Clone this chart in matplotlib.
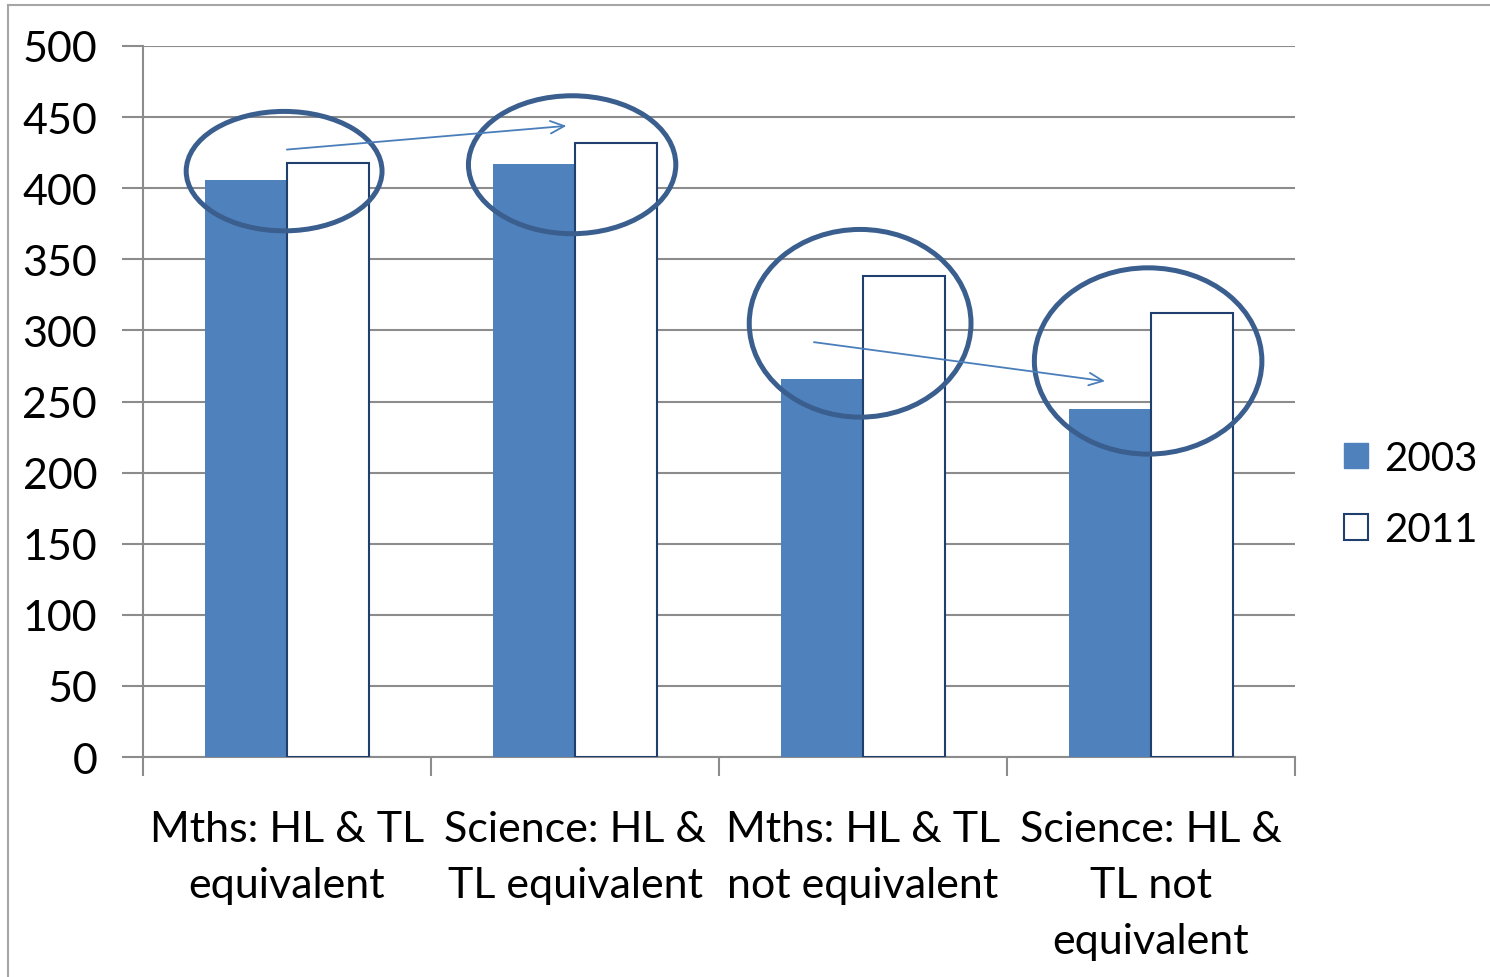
import matplotlib
matplotlib.use("Agg")
import matplotlib.pyplot as plt
from matplotlib.patches import Ellipse
from matplotlib.lines import Line2D
import numpy as np

plt.rcParams['font.family'] = ['Lato', 'DejaVu Sans']

categories = ['Mths: HL & TL\nequivalent', 'Science: HL &\nTL equivalent',
              'Mths: HL & TL\nnot equivalent', 'Science: HL &\nTL not\nequivalent']
scores_2003 = [406, 417, 266, 245]
scores_2011 = [418, 432, 338, 312]

# circled pairs: (width in categories, height in score units)
circle_w = [0.68, 0.72, 0.77, 0.79]
circle_h = [84, 97, 132, 131]
circle_dy = [0, -8, 3, 0]

blue = '#4f81bd'
grid_c = '#8c8c8c'

fig = plt.figure(figsize=(14.9, 9.78), dpi=100)
ax = fig.add_axes([143/1490, 1-758/978, (1295-143)/1490, (758-47)/978])

x = np.arange(len(categories))
w = 0.285
ax.bar(x - w/2, scores_2003, w, color=blue, edgecolor=blue, linewidth=0, label='2003', zorder=3)
ax.bar(x + w/2, scores_2011, w, color='white', edgecolor='#1f3f6e', linewidth=1.5, label='2011', zorder=3)

for i in range(len(categories)):
    cy = (scores_2003[i] + scores_2011[i]) / 2 + circle_dy[i]
    ax.add_patch(Ellipse((x[i] - 0.01, cy), circle_w[i], circle_h[i], fill=False,
                         edgecolor='#3a5e8e', linewidth=3.6, zorder=5, clip_on=False))

# trend arrows between matching pairs
arrow_kw = dict(arrowstyle='->,head_length=1.0,head_width=0.45', color='#4a7ebb', lw=1.3)
ax.annotate('', xy=(0.98, 444), xytext=(-0.01, 427), arrowprops=arrow_kw, zorder=6)
ax.annotate('', xy=(2.85, 264), xytext=(1.82, 292), arrowprops=arrow_kw, zorder=6)

ax.set_xlim(-0.5, 3.5)
ax.set_ylim(0, 500)
ax.set_yticks(np.arange(0, 501, 50))
ax.set_xticks(np.arange(-0.5, 3.6, 1))
ax.set_xticklabels([])
ax.set_xticks(x, minor=True)
ax.set_xticklabels(categories, minor=True, fontsize=31, linespacing=1.58)
ax.tick_params(axis='x', which='minor', length=0, pad=38)
ax.tick_params(axis='x', which='major', length=14, width=1.5, color=grid_c)
ax.tick_params(axis='y', length=15, width=1.5, color=grid_c, labelsize=31, pad=18)
ax.grid(axis='y', color=grid_c, linewidth=1.5, zorder=0)
ax.set_axisbelow(True)
for s in ['top', 'right']:
    ax.spines[s].set_visible(False)
for s in ['left', 'bottom']:
    ax.spines[s].set_color(grid_c)
    ax.spines[s].set_linewidth(1.5)

handles = [plt.Rectangle((0, 0), 1, 1, facecolor=blue, edgecolor=blue),
           plt.Rectangle((0, 0), 1, 1, facecolor='white', edgecolor='#1f3f6e', linewidth=1.5)]
fig.legend(handles, ['2003', '2011'], loc='center left', bbox_to_anchor=(1316/1490, 1-495/978),
           frameon=False, fontsize=29, handlelength=0.6, handleheight=0.6,
           handletextpad=0.4, labelspacing=0.85, borderpad=0.2)

# outer chart border (left and top visible)
fig.add_artist(Line2D([8/1490, 8/1490], [0, 1-6/978], color='#a6a6a6', lw=1.5))
fig.add_artist(Line2D([8/1490, 1], [1-6/978, 1-6/978], color='#a6a6a6', lw=1.5))

fig.savefig('out.png', dpi=100)
